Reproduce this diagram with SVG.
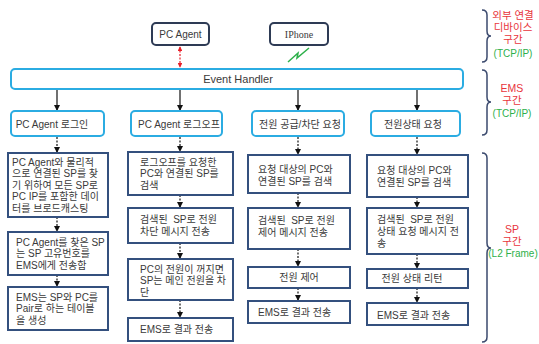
<svg xmlns="http://www.w3.org/2000/svg" width="539" height="344" viewBox="0 0 539 344">
<style>
text{font-family:"Liberation Sans","Noto Sans CJK KR",sans-serif;font-size:10px;fill:#3a3a3a}
.dev{fill:#fff;stroke:#2E3B55;stroke-width:2}
.ems{fill:#fff;stroke:#2BACE2;stroke-width:2}
.sp{fill:#fff;stroke:#34507E;stroke-width:2}
.solid{stroke:#111;stroke-width:1.2;fill:none;marker-end:url(#ah)}
.dash{stroke:#111;stroke-width:1.2;fill:none;stroke-dasharray:2 1.5;marker-end:url(#ah)}
.brace{fill:none;stroke:#3B4A6E;stroke-width:1.5}
.red{fill:#E8343C;font-size:10.5px}
.grn{fill:#2DB04A;font-size:10px}
.c{text-anchor:middle}
</style>
<defs>
<marker id="ah" viewBox="0 0 6 6" refX="5" refY="3" markerWidth="5" markerHeight="5" orient="auto"><path d="M0,0 L6,3 L0,6 z" fill="#111"/></marker>
<marker id="rh" viewBox="0 0 6 6" refX="5" refY="3" markerWidth="4" markerHeight="4" orient="auto-start-reverse"><path d="M0,0 L6,3 L0,6 z" fill="#E8202A"/></marker>
</defs>

<g id="connectors">
<line x1="180" y1="47" x2="180" y2="67" stroke="#E8202A" stroke-width="1.2" stroke-dasharray="2 1.5" marker-start="url(#rh)" marker-end="url(#rh)"/>
<polyline points="288,62 298,53 297,58 309,48" fill="none" stroke="#2DB04A" stroke-width="1.5"/>
<line class="solid" x1="57" y1="90" x2="57" y2="110"/>
<line class="solid" x1="180" y1="90" x2="180" y2="110"/>
<line class="solid" x1="298" y1="90" x2="298" y2="110"/>
<line class="solid" x1="417" y1="90" x2="417" y2="110"/>
<line class="dash" x1="57" y1="137" x2="57" y2="152"/>
<line class="dash" x1="57" y1="217" x2="57" y2="231"/>
<line class="dash" x1="57" y1="275" x2="57" y2="286"/>
<line class="dash" x1="180" y1="137" x2="180" y2="151"/>
<line class="dash" x1="180" y1="195" x2="180" y2="207"/>
<line class="dash" x1="180" y1="243" x2="180" y2="258"/>
<line class="dash" x1="180" y1="300" x2="180" y2="317"/>
<line class="dash" x1="298" y1="137" x2="298" y2="154"/>
<line class="dash" x1="298" y1="193" x2="298" y2="207"/>
<line class="dash" x1="298" y1="249" x2="298" y2="266"/>
<line class="dash" x1="298" y1="288" x2="298" y2="300"/>
<line class="dash" x1="417" y1="137" x2="417" y2="154"/>
<line class="dash" x1="417" y1="197" x2="417" y2="207"/>
<line class="dash" x1="417" y1="254" x2="417" y2="268"/>
<line class="dash" x1="417" y1="288" x2="417" y2="302"/>
</g>

<g id="pc-agent"><rect class="dev" x="152" y="23" width="57" height="22" rx="4"/><text class="c" x="180.5" y="37.5">PC Agent</text></g>
<g id="iphone"><rect class="dev" x="270" y="23" width="58" height="22" rx="4"/><text class="c" x="299" y="37.5" style="font-family:'Liberation Serif',serif">IPhone</text></g>
<g id="event-handler"><rect class="ems" x="11" y="69" width="452" height="20" rx="4"/><text class="c" x="238" y="83" style="font-size:11px">Event Handler</text></g>

<g id="login"><rect class="ems" x="11" y="111" width="93" height="25" rx="4"/><text class="c" x="52" y="127.5">PC Agent 로그인</text></g>
<g id="logoff"><rect class="ems" x="131" y="111" width="91" height="25" rx="4"/><text class="c" x="179" y="127.5">PC Agent 로그오프</text></g>
<g id="power-req"><rect class="ems" x="252" y="111" width="92" height="25" rx="4"/><text class="c" x="300" y="127.5">전원 공급/차단 요청</text></g>
<g id="status-req"><rect class="ems" x="371" y="111" width="89" height="25" rx="4"/><text class="c" x="413" y="127.5">전원상태 요청</text></g>

<g id="c1b1"><rect class="sp" x="8" y="153" width="100" height="64"/>
<text x="12" y="166">PC Agent와 물리적<tspan x="12" dy="11.4">으로 연결된 SP를 찾</tspan><tspan x="12" dy="11.4">기 위하여 모든 SP로</tspan><tspan x="12" dy="11.4">PC IP를 포함한 데이</tspan><tspan x="12" dy="11.4">터를 브로드캐스팅</tspan></text></g>
<g id="c1b2"><rect class="sp" x="8" y="232" width="100" height="43"/>
<text x="16" y="246">PC Agent를 찾은 SP<tspan x="16" dy="11.4">는 SP 고유번호를</tspan><tspan x="16" dy="11.4">EMS에게 전송함</tspan></text></g>
<g id="c1b3"><rect class="sp" x="8" y="287" width="100" height="43"/>
<text x="16" y="301">EMS는 SP와 PC를<tspan x="16" dy="11.4">Pair로 하는 테이블</tspan><tspan x="16" dy="11.4">을 생성</tspan></text></g>

<g id="c2b1"><rect class="sp" x="128" y="152" width="105" height="43"/>
<text x="140" y="166">로그오프를 요청한<tspan x="140" dy="11.4">PC와 연결된 SP를</tspan><tspan x="140" dy="11.4">검색</tspan></text></g>
<g id="c2b2"><rect class="sp" x="128" y="208" width="105" height="35"/>
<text x="140" y="223" xml:space="preserve">검색된  SP로 전원<tspan x="140" dy="12">차단 메시지 전송</tspan></text></g>
<g id="c2b3"><rect class="sp" x="128" y="259" width="105" height="41"/>
<text x="140" y="273">PC의 전원이 꺼지면<tspan x="140" dy="11.4">SP는 메인 전원을 차</tspan><tspan x="140" dy="11.4">단</tspan></text></g>
<g id="c2b4"><rect class="sp" x="128" y="318" width="105" height="23"/>
<text x="140" y="333">EMS로 결과 전송</text></g>

<g id="c3b1"><rect class="sp" x="248" y="155" width="102" height="38"/>
<text x="258" y="173">요청 대상의 PC와<tspan x="258" dy="12">연결된 SP를 검색</tspan></text></g>
<g id="c3b2"><rect class="sp" x="248" y="208" width="102" height="41"/>
<text x="258" y="224" xml:space="preserve">검색된  SP로 전원<tspan x="258" dy="12">제어 메시지 전송</tspan></text></g>
<g id="c3b3"><rect class="sp" x="248" y="267" width="102" height="21"/>
<text class="c" x="299" y="281">전원 제어</text></g>
<g id="c3b4"><rect class="sp" x="248" y="301" width="102" height="22"/>
<text x="258" y="316">EMS로 결과 전송</text></g>

<g id="c4b1"><rect class="sp" x="367" y="155" width="101" height="42"/>
<text x="377" y="174">요청 대상의 PC와<tspan x="377" dy="12">연결된 SP를 검색</tspan></text></g>
<g id="c4b2"><rect class="sp" x="367" y="208" width="101" height="46"/>
<text x="377" y="223" xml:space="preserve">검색된  SP로 전원<tspan x="377" dy="12">상태 요청 메시지 전</tspan><tspan x="377" dy="12">송</tspan></text></g>
<g id="c4b3"><rect class="sp" x="367" y="269" width="101" height="19"/>
<text class="c" x="412" y="282">전원 상태 리턴</text></g>
<g id="c4b4"><rect class="sp" x="367" y="303" width="101" height="22"/>
<text x="377" y="319">EMS로 결과 전송</text></g>

<g id="zone-external">
<path class="brace" d="M482,10 Q487,10 487,15 L487,31 Q487,36 491,36 Q487,36 487,41 L487,57 Q487,62 482,62"/>
<text class="red c" x="513" y="19">외부 연결<tspan x="513" dy="12">디바이스</tspan><tspan x="513" dy="12">구간</tspan><tspan class="grn" x="513" dy="13.5">(TCP/IP)</tspan></text>
</g>
<g id="zone-ems">
<path class="brace" d="M482,70 Q487,70 487,75 L487,97 Q487,102 491,102 Q487,102 487,107 L487,130 Q487,135 482,135"/>
<text class="red c" x="512" y="92">EMS<tspan x="512" dy="12">구간</tspan><tspan class="grn" x="512" dy="13">(TCP/IP)</tspan></text>
</g>
<g id="zone-sp">
<path class="brace" d="M482,153 Q487,153 487,158 L487,243 Q487,248 491,248 Q487,248 487,253 L487,337 Q487,342 482,342"/>
<text class="red c" x="512" y="233">SP<tspan x="512" dy="12">구간</tspan><tspan class="grn" x="513" dy="11.6">(L2 Frame)</tspan></text>
</g>
</svg>
